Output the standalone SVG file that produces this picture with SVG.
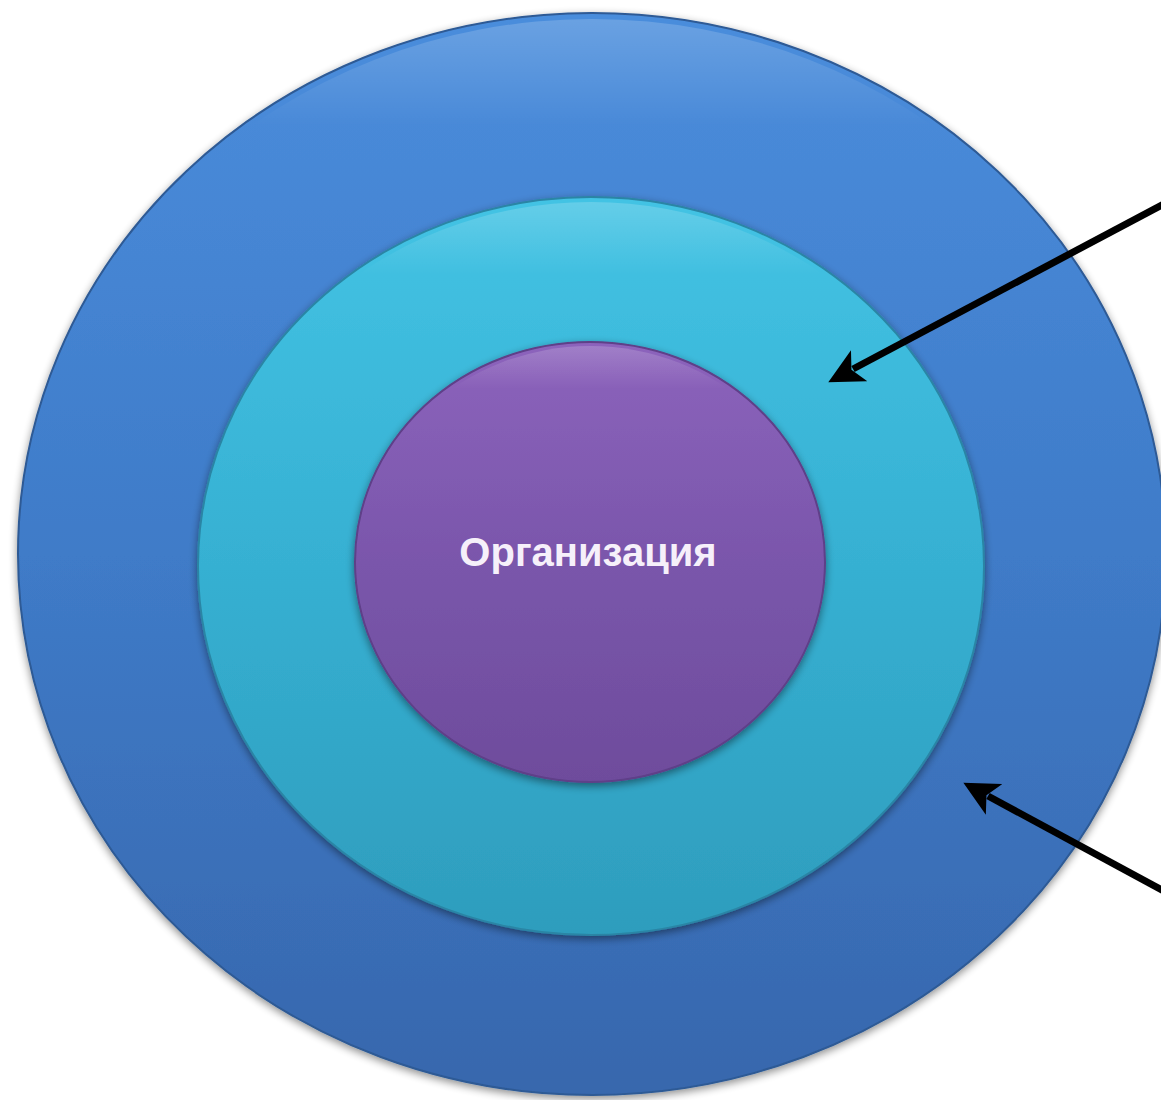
<svg xmlns="http://www.w3.org/2000/svg" width="1161" height="1100" viewBox="0 0 1161 1100">
<defs>
<linearGradient id="gOuter" x1="0" y1="0" x2="0" y2="1">
<stop offset="0" stop-color="#4a8ddc"/>
<stop offset="0.5" stop-color="#3f7bc8"/>
<stop offset="1" stop-color="#3767ad"/>
</linearGradient>
<linearGradient id="gMid" x1="0" y1="0" x2="0" y2="1">
<stop offset="0" stop-color="#43c3e4"/>
<stop offset="0.5" stop-color="#36b0d2"/>
<stop offset="1" stop-color="#2e9dbd"/>
</linearGradient>
<linearGradient id="gInner" x1="0" y1="0" x2="0" y2="1">
<stop offset="0" stop-color="#8c63bc"/>
<stop offset="0.5" stop-color="#7a56ab"/>
<stop offset="1" stop-color="#6e4c9c"/>
</linearGradient>
<linearGradient id="gRim" x1="0" y1="0" x2="0" y2="1">
<stop offset="0" stop-color="#ffffff" stop-opacity="0.18"/>
<stop offset="0.1" stop-color="#ffffff" stop-opacity="0"/>
<stop offset="1" stop-color="#ffffff" stop-opacity="0"/>
</linearGradient>
<filter id="shadow" x="-10%" y="-10%" width="120%" height="120%">
<feGaussianBlur in="SourceAlpha" stdDeviation="4"/>
<feOffset dx="0" dy="3" result="b"/>
<feComponentTransfer><feFuncA type="linear" slope="0.45"/></feComponentTransfer>
<feMerge><feMergeNode/><feMergeNode in="SourceGraphic"/></feMerge>
</filter>
<marker id="arrow" viewBox="0 0 10 10" refX="2" refY="5" markerWidth="5" markerHeight="5" orient="auto-start-reverse" markerUnits="strokeWidth">
<path d="M0,0 L10,5 L0,10 L2.5,5 Z" fill="#000"/>
</marker>
<style>
.rim{fill:url(#gRim);stroke:none}
.label{font-family:"Liberation Sans",Arial,sans-serif;font-weight:bold;font-size:40px;fill:#f6f0fa;text-anchor:middle}
.conn{stroke:#000;stroke-width:7;fill:none}
</style>
</defs>
<rect width="1161" height="1100" fill="#ffffff"/>
<g id="outer">
<ellipse cx="592" cy="554" rx="574" ry="541" fill="url(#gOuter)" stroke="#2d5a95" stroke-width="2" filter="url(#shadow)"/>
<ellipse cx="592" cy="554" rx="568" ry="535" class="rim"/>
</g>
<g id="middle">
<ellipse cx="591" cy="566" rx="393" ry="369" fill="url(#gMid)" stroke="#2a85a5" stroke-width="2" filter="url(#shadow)"/>
<ellipse cx="591" cy="566" rx="388" ry="364" class="rim"/>
</g>
<g id="inner">
<ellipse cx="590" cy="562" rx="235" ry="220" fill="url(#gInner)" stroke="#5e3f88" stroke-width="2" filter="url(#shadow)"/>
<ellipse cx="590" cy="562" rx="231" ry="216" class="rim"/>
<text x="588" y="566" class="label">Организация</text>
</g>
<g id="connectors">
<line x1="1175" y1="198" x2="853" y2="369" class="conn" marker-end="url(#arrow)"/>
<line x1="1175" y1="897" x2="988" y2="796" class="conn" marker-end="url(#arrow)"/>
</g>
</svg>
